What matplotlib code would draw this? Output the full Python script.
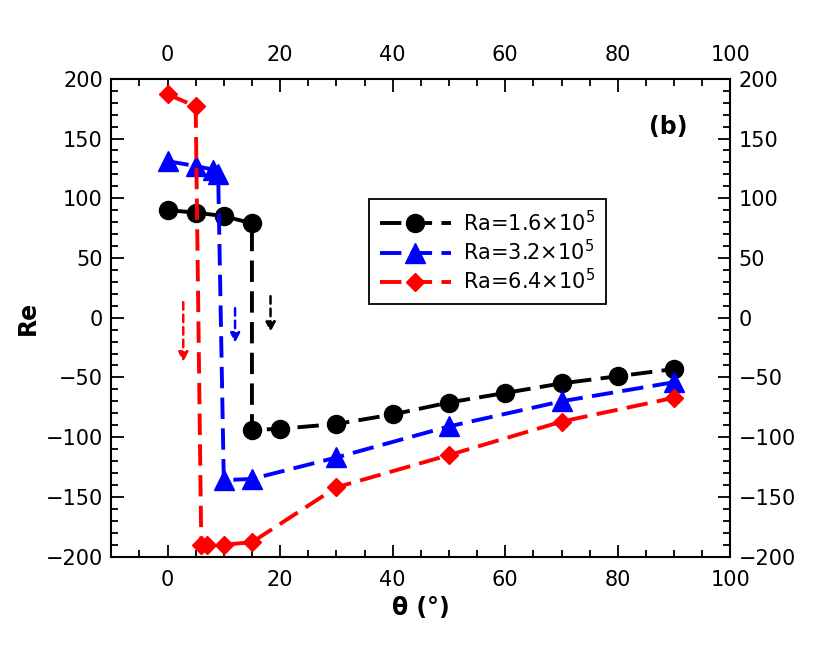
import matplotlib.pyplot as plt
from matplotlib.ticker import MultipleLocator

plt.rcParams['font.family'] = 'DejaVu Sans'

# Ra = 1.6e5
theta_1 = [0, 5, 10, 15, 15, 20, 30, 40, 50, 60, 70, 80, 90]
re_1 = [90, 88, 85, 79, -94, -93, -89, -81, -71, -63, -55, -49, -43]
# Ra = 3.2e5
theta_2 = [0, 5, 8, 9, 10, 15, 30, 50, 70, 90]
re_2 = [131, 127, 124, 120, -136, -135, -117, -91, -70, -54]
# Ra = 6.4e5
theta_3 = [0, 5, 6, 7, 10, 15, 30, 50, 70, 90]
re_3 = [187, 177, -190, -190, -190, -188, -142, -115, -87, -67]

labels = ['Ra=1.6×10$^5$', 'Ra=3.2×10$^5$', 'Ra=6.4×10$^5$']

# transition arrows (x, y_start, y_end)
arrows = [(2.8, 13, -37, 'red'), (12, 8, -21, 'blue'), (18.3, 18, -12, 'black')]

fig = plt.figure(figsize=(8.3, 6.51), dpi=100)
ax = fig.add_axes([0.134, 0.145, 0.746, 0.734])

dash = (5.5, 2.4)
ax.plot(theta_1, re_1, color='black', marker='o', markersize=13, lw=2.8,
        linestyle='--', dashes=dash, label=labels[0])
ax.plot(theta_2, re_2, color='blue', marker='^', markersize=14, lw=2.8,
        linestyle='--', dashes=dash, label=labels[1])
ax.plot(theta_3, re_3, color='red', marker='D', markersize=9.5, lw=2.8,
        linestyle='--', dashes=dash, label=labels[2])

for x, y0, y1, c in arrows:
    ax.annotate('', xy=(x, y1), xytext=(x, y0),
                arrowprops=dict(arrowstyle='-|>', color=c, lw=1.8,
                                linestyle=(0, (3, 2)), mutation_scale=14,
                                shrinkA=0, shrinkB=0))

ax.set_xlim(-10, 100)
ax.set_ylim(-200, 200)
ax.xaxis.set_major_locator(MultipleLocator(20))
ax.xaxis.set_minor_locator(MultipleLocator(5))
ax.yaxis.set_major_locator(MultipleLocator(50))
ax.yaxis.set_minor_locator(MultipleLocator(10))
ax.tick_params(which='both', direction='in', top=True, right=True,
               labeltop=True, labelright=True, labelsize=15, width=1.3)
ax.tick_params(which='major', length=9)
ax.tick_params(which='minor', length=5)
ax.tick_params(axis='x', which='major', pad=10)
ax.tick_params(axis='y', which='major', pad=6)
for s in ax.spines.values():
    s.set_linewidth(1.5)

ax.set_xlabel('θ (°)', fontsize=17, fontweight='bold', labelpad=4)
ax.set_ylabel('Re', fontsize=17, fontweight='bold')
ax.text(0.93, 0.9, '(b)', transform=ax.transAxes, fontsize=17,
        fontweight='bold', ha='right', va='center')

leg = ax.legend(loc='upper left', bbox_to_anchor=(0.4, 0.77), fontsize=15,
                fancybox=False, edgecolor='black', framealpha=1,
                handlelength=3.4, handletextpad=0.6, borderpad=0.5,
                labelspacing=0.2)
leg.get_frame().set_linewidth(1.3)

fig.savefig('out.png')
